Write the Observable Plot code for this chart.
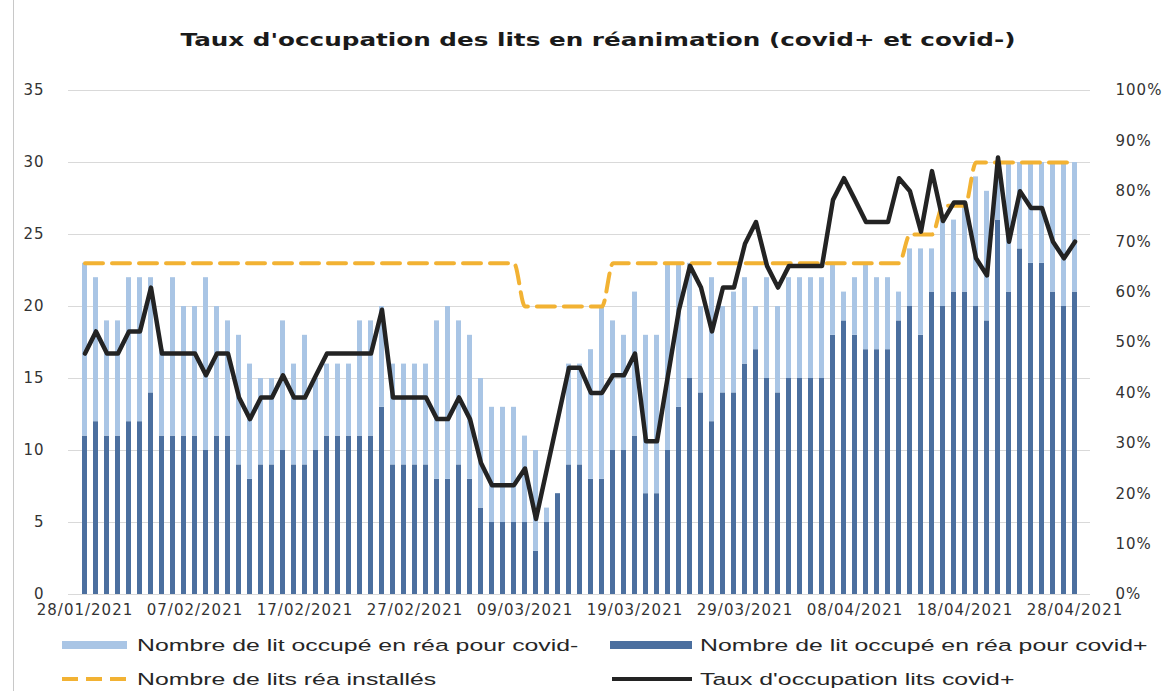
<!DOCTYPE html>
<html>
<head>
<meta charset="utf-8">
<script src="https://cdn.jsdelivr.net/npm/d3@7"></script>
<script src="https://cdn.jsdelivr.net/npm/@observablehq/plot@0.6"></script>
<style>
  html, body { margin: 0; padding: 0; background: #fff; }
  body { width: 1171px; height: 691px; position: relative; overflow: hidden; }
  #frame { position: absolute; left: 13px; top: 0; width: 0; height: 691px; border-left: 1px solid #c8c8c8; }
  #title { position: absolute; left: 0; top: 0; }
  #chart { position: absolute; left: 0; top: 70px; }
  #legend { position: absolute; left: 0; top: 628px; }
</style>
</head>
<body>
<div id="frame"></div>
<svg id="title" width="1171" height="70">
  <text x="598" y="40" text-anchor="middle" dominant-baseline="central" textLength="835" lengthAdjust="spacingAndGlyphs"
        style="font: bold 17px 'DejaVu Sans', sans-serif; fill:#1a1a1a;">Taux d'occupation des lits en réanimation (covid+ et covid-)</text>
</svg>
<div id="chart"></div>
<div id="legend"></div>
<script>
// ---- Data ----
const dates = d3.utcDay.range(new Date(Date.UTC(2021, 0, 28)), new Date(Date.UTC(2021, 3, 29)))
  .map(d3.utcFormat("%d/%m/%Y"));

// Nombre de lit occupé en réa pour covid+ (dark blue, bottom of stack)
const covidPlus = [
  11,12,11,11,12,12,14,11,11,11,
  11,10,11,11,9,8,9,9,10,9,
  9,10,11,11,11,11,11,13,9,9,
  9,9,8,8,9,8,6,5,5,5,
  5,3,5,7,9,9,8,8,10,10,
  11,7,7,10,13,15,14,12,14,14,
  16,17,15,14,15,15,15,15,18,19,
  18,17,17,17,19,20,18,21,20,21,
  21,20,19,26,21,24,23,23,21,20,21
];

// Nombre de lit occupé en réa pour covid- (light blue, top of stack)
const covidMinus = [
  12,10,8,8,10,10,8,6,11,9,
  9,12,9,8,9,8,6,6,9,7,
  9,5,5,5,5,8,8,7,7,7,
  7,7,11,12,10,10,9,8,8,8,
  6,7,1,0,7,7,9,12,9,8,
  10,11,11,13,10,8,6,10,6,7,
  6,3,7,6,7,7,7,7,5,2,
  4,6,5,5,2,4,6,3,6,5,
  6,9,9,4,9,6,7,7,9,10,9
];

// Nombre de lits réa installés (orange dashed)
const litsInstalles = [
  23,23,23,23,23,23,23,23,23,23,
  23,23,23,23,23,23,23,23,23,23,
  23,23,23,23,23,23,23,23,23,23,
  23,23,23,23,23,23,23,23,23,23,
  20,20,20,20,20,20,20,20,23,23,
  23,23,23,23,23,23,23,23,23,23,
  23,23,23,23,23,23,23,23,23,23,
  23,23,23,23,23,25,25,25,27,27,
  27,30,30,30,30,30,30,30,30,30,30
];

// Taux d'occupation lits covid+ (%) (black line, right axis)
const tauxCovidPlus = [
  47.8,52.2,47.8,47.8,52.2,52.2,60.9,47.8,47.8,47.8,
  47.8,43.5,47.8,47.8,39.1,34.8,39.1,39.1,43.5,39.1,
  39.1,43.5,47.8,47.8,47.8,47.8,47.8,56.5,39.1,39.1,
  39.1,39.1,34.8,34.8,39.1,34.8,26.1,21.7,21.7,21.7,
  25,15,25,35,45,45,40,40,43.5,43.5,
  47.8,30.4,30.4,43.5,56.5,65.2,60.9,52.2,60.9,60.9,
  69.6,73.9,65.2,60.9,65.2,65.2,65.2,65.2,78.3,82.6,
  78.3,73.9,73.9,73.9,82.6,80,72,84,74.1,77.8,
  77.8,66.7,63.3,86.7,70,80,76.7,76.7,70,66.7,70
];

const xTickLabels = ["28/01/2021","07/02/2021","17/02/2021","27/02/2021","09/03/2021",
                     "19/03/2021","29/03/2021","08/04/2021","18/04/2021","28/04/2021"];
const yTicks = [0,5,10,15,20,25,30,35];
const pctTicks = [0,10,20,30,40,50,60,70,80,90,100];
const yMax = 35;      // left axis max, equals 100% on the right axis

const seriesNames = ["Nombre de lit occupé en réa pour covid-", "Nombre de lit occupé en réa pour covid+",
                     "Nombre de lits réa installés", "Taux d'occupation lits covid+"];
const colors = {minus: "#a9c5e5", plus: "#4b6f9f", inst: "#f2b233", taux: "#232323"};

// ---- Build tables ----
const rows = dates.map((d, i) => ({date: d, plus: covidPlus[i], minus: covidMinus[i], inst: litsInstalles[i], taux: tauxCovidPlus[i]}));
const stacked = [
  ...rows.map(r => ({date: r.date, serie: "covid+", v: r.plus})),
  ...rows.map(r => ({date: r.date, serie: "covid-", v: r.minus}))
];

const chart = Plot.plot({
  width: 1171,
  height: 560,
  marginLeft: 68,
  marginRight: 81,
  marginTop: 20,
  marginBottom: 36,
  style: {fontFamily: "'DejaVu Sans', sans-serif", fontSize: "15px", color: "#333", letterSpacing: "1px", background: "transparent"},
  x: {type: "band", domain: dates, paddingInner: 0.55, paddingOuter: 0.44, label: null},
  y: {domain: [0, yMax], label: null},
  color: {domain: ["covid+", "covid-"], range: [colors.plus, colors.minus]},
  marks: [
    Plot.ruleY(yTicks, {stroke: "#d9d9d9", strokeWidth: 1}),
    Plot.barY(stacked, {x: "date", y: "v", fill: "serie"}),
    Plot.line(rows, {x: "date", y: "inst", stroke: colors.inst, strokeWidth: 4, strokeDasharray: "18,9", curve: "monotone-x"}),
    Plot.line(rows, {x: "date", y: d => d.taux / 100 * yMax, stroke: colors.taux, strokeWidth: 4.5, strokeLinejoin: "round"}),
    Plot.axisY({ticks: yTicks, tickSize: 0, tickPadding: 24, label: null}),
    Plot.axisY({anchor: "right", ticks: pctTicks.map(p => p / 100 * yMax), tickFormat: d => Math.round(d / yMax * 100) + "%", tickSize: 0, tickPadding: 25, label: null}),
    Plot.axisX({ticks: xTickLabels, tickSize: 0, tickPadding: 10, label: null})
  ]
});
document.getElementById("chart").appendChild(chart);

// ---- Legend (below the chart) ----
const leg = d3.select("#legend").append("svg").attr("width", 1171).attr("height", 63);
const textStyle = "font: 17px 'Liberation Sans', Arial, sans-serif; fill:#262626;";
const items = [
  {name: seriesNames[0], kind: "rect", color: colors.minus, sx: 62, sw: 65, tx: 137, y: 17},
  {name: seriesNames[1], kind: "rect", color: colors.plus, sx: 610, sw: 82, tx: 700, y: 17},
  {name: seriesNames[2], kind: "dash", color: colors.inst, sx: 62, sw: 65, tx: 137, y: 51},
  {name: seriesNames[3], kind: "line", color: colors.taux, sx: 612, sw: 80, tx: 700, y: 51}
];
for (const it of items) {
  if (it.kind === "rect") {
    leg.append("rect").attr("x", it.sx).attr("y", it.y - 4).attr("width", it.sw).attr("height", 8).attr("fill", it.color);
  } else {
    leg.append("line").attr("x1", it.sx).attr("x2", it.sx + it.sw).attr("y1", it.y).attr("y2", it.y)
      .attr("stroke", it.color).attr("stroke-width", 4)
      .attr("stroke-dasharray", it.kind === "dash" ? "16,8" : null);
  }
  leg.append("text").attr("transform", `translate(${it.tx},${it.y}) scale(1.46,1)`)
    .attr("dominant-baseline", "central").attr("style", textStyle).text(it.name);
}
</script>
</body>
</html>
